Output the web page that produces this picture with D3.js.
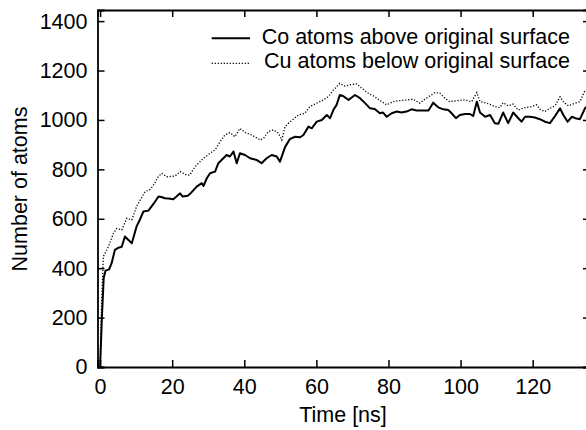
<!DOCTYPE html>
<html>
<head>
<meta charset="utf-8">
<script src="https://cdn.jsdelivr.net/npm/d3@7"></script>
<style>
    body { margin: 0; background: #fff; }
    #js_chart text { font-family: "Liberation Sans", Arial, Helvetica, sans-serif; font-size: 21.5px; fill: #000; }
</style>
</head>
<body>
<div id="js_chart"></div>
<script>

// ******************************************************
// Data
// ******************************************************
const coTime = [0, 0.5, 1, 1.5, 2.5, 3.2, 4.1, 5, 6, 6.9, 7.8, 8.8, 10.1, 11, 12, 13.4, 14.8, 16.2, 17, 18, 19, 20.3,
    21.2, 22.2, 22.9, 24.3, 24.9, 26.1, 26.8, 28.2, 28.7, 29.6, 30.5, 31.9, 32.8, 33.7, 35.1, 36, 37, 37.9, 38.8,
    40.2, 41.6, 43.4, 44.8, 46.2, 47.6, 49, 49.9, 51.3, 52.6, 54.1, 55.5, 56.4, 57.8, 58.7, 60.1, 61.5, 62.9, 63.8,
    64.7, 65.6, 66.5, 67.4, 68.9, 70.7, 72.1, 73.5, 74.9, 76.2, 77.6, 78.5, 79.5, 80.9, 82.3, 83.6, 85, 86.4, 87.8,
    89.7, 91.1, 92.4, 93.8, 95.2, 96.6, 97.5, 98.7, 99.8, 101.2, 102.6, 103.5, 104.5, 105.4, 106.8, 108.2, 109.5,
    110.5, 111.8, 113.2, 114.6, 116, 116.9, 117.9, 119.2, 120.6, 122, 123.4, 124.8, 126.2, 127.6, 128.5, 129.7,
    130.9, 131.8, 133.1, 134.5, 135.5];
const coAtoms = [0, 200, 360, 390, 395, 420, 474, 482, 487, 528, 515, 501, 568, 595, 629, 633, 660, 690, 688, 683, 682, 679,
    690, 703, 690, 693, 700, 719, 730, 744, 733, 764, 784, 791, 825, 838, 858, 852, 872, 825, 865,
    858, 845, 838, 825, 845, 858, 852, 831, 890, 922, 932, 930, 939, 973, 966, 993, 1000, 1020, 1007,
    1040, 1061, 1101, 1097, 1081, 1101, 1088, 1068, 1047, 1044, 1027, 1030, 1013, 1027, 1034, 1030, 1034, 1043, 1038,
    1038, 1038, 1070, 1051, 1043, 1040, 1027, 1007, 1020, 1024, 1024, 1016, 1074, 1030, 1013, 1020, 987,
    985, 1030, 987, 1030, 1007, 993, 1013, 1013, 1010, 1003, 993, 987, 1016, 1047, 1020, 993,
    1013, 1007, 1003, 1047, 1060];

const cuTime = [0, 0.3, 0.9, 2.3, 3.7, 4.6, 6, 7.4, 8.8, 10.1, 11.3, 12.5, 13.9, 15, 16.1, 17.1, 18.5, 20.8, 22.2, 24,
    24.9, 26.1, 26.8, 28.7, 30.5, 31.9, 33.3, 34.6, 36, 37.4, 38.8, 40.2, 42.1, 44.4, 45.3, 46.7, 48.1, 49.5, 50.4,
    51.3, 52.5, 55, 56.8, 58.2, 60.1, 61.9, 63.3, 64.7, 66.5, 67.9, 69.3, 71.2, 72.6, 74.4, 76.2, 78.1, 79.5, 81.3,
    83.1, 85, 86.8, 88.7, 90.5, 91.9, 92.9, 94.3, 95.6, 97, 98.9, 101.2, 103.1, 104.5, 105.4, 107.3, 109.5, 110.9,
    111.8, 113.2, 114.6, 116, 117.9, 119.7, 121.1, 122, 123.4, 124.8, 126.2, 127.6, 128.5, 129.9, 131.8, 133.1,
    134.5, 135.5];
const cuAtoms = [0, 200, 447, 487, 541, 561, 555, 602, 595, 649, 680, 710, 719, 740, 770, 784, 770, 773, 791, 777,
    777, 805, 818, 845, 865, 879, 912, 939, 949, 932, 966, 949, 939, 919, 925, 953, 960, 946, 919,
    973, 990, 1020, 1027, 1054, 1068, 1081, 1094, 1121, 1148, 1137, 1142, 1146, 1128, 1108, 1094, 1074, 1061, 1074,
    1078, 1081, 1084, 1068, 1088, 1101, 1111, 1108, 1088, 1074, 1078, 1081, 1074, 1111, 1074, 1068, 1054, 1050,
    1070, 1057, 1064, 1040, 1050, 1054, 1061, 1043, 1034, 1047, 1057, 1094, 1074, 1057, 1068, 1074,
    1119, 1125];

const xTicks = [0, 20, 40, 60, 80, 100, 120];
const yTicks = [0, 200, 400, 600, 800, 1000, 1200, 1400];
const legendLabels = ["Co atoms above original surface", "Cu atoms below original surface"];

createPlot();

function createPlot() {

    // ******************************************************
    // Clear
    // ******************************************************
    let div = document.getElementById("js_chart");
    div.innerHTML = "";

    // ******************************************************
    // Settings
    // ******************************************************
    let width = 586,
        height = 430;
    let plot = {left: 97.5, right: 590, top: 10, bottom: 367};
    const tickLen = 7;

    let x = d3.scaleLinear()
        .domain([-0.72, 135.9])
        .range([plot.left, plot.right]);

    let y = d3.scaleLinear()
        .domain([0, 1445])
        .range([plot.bottom, plot.top]);

    let coData = coTime.map(function (t, i) { return {x: t, y: coAtoms[i]}; });
    let cuData = cuTime.map(function (t, i) { return {x: t, y: cuAtoms[i]}; });

    // ******************************************************
    // svg
    // ******************************************************
    let svg = d3.select("#js_chart")
        .append("svg")
        .attr("width", width)
        .attr("height", height);

    let line = d3.line()
        .x(function (d) { return x(d.x); })
        .y(function (d) { return y(d.y); });

    // series
    svg.append("path")
        .datum(cuData)
        .attr("fill", "none")
        .attr("stroke", "#000")
        .attr("stroke-width", 1.3)
        .attr("stroke-dasharray", "1.2,1.8")
        .attr("d", line);

    svg.append("path")
        .datum(coData)
        .attr("fill", "none")
        .attr("stroke", "#000")
        .attr("stroke-width", 2)
        .attr("stroke-linejoin", "round")
        .attr("d", line);

    // axes (ticks point inward, mirrored on top and right)
    svg.append("g")
        .attr("transform", "translate(0," + plot.bottom + ")")
        .call(d3.axisBottom(x).tickValues(xTicks).tickSize(-tickLen).tickPadding(12).tickFormat(d3.format("d")))
        .call(styleAxis);

    svg.append("g")
        .attr("transform", "translate(0," + plot.top + ")")
        .call(d3.axisTop(x).tickValues(xTicks).tickSize(-tickLen).tickFormat(""))
        .call(styleAxis);

    svg.append("g")
        .attr("transform", "translate(" + plot.left + ",0)")
        .call(d3.axisLeft(y).tickValues(yTicks).tickSize(-tickLen).tickPadding(10).tickFormat(d3.format("d")))
        .call(styleAxis);

    svg.append("g")
        .attr("transform", "translate(" + plot.right + ",0)")
        .call(d3.axisRight(y).tickValues(yTicks).tickSize(-tickLen).tickFormat(""))
        .call(styleAxis);

    svg.selectAll(".tick text").attr("font-size", null).attr("font-family", null);

    // axis titles
    svg.append("text")
        .attr("x", 343)
        .attr("y", 422)
        .attr("text-anchor", "middle")
        .text("Time [ns]");

    svg.append("text")
        .attr("transform", "translate(27,189) rotate(-90)")
        .attr("text-anchor", "middle")
        .text("Number of atoms");

    // ******************************************************
    // Legend
    // ******************************************************
    let legend = svg.append("g");
    legendLabels.forEach(function (label, i) {
        let ly = 38.3 + i * 25;
        legend.append("line")
            .attr("x1", 211.7).attr("x2", 250)
            .attr("y1", ly).attr("y2", ly)
            .attr("stroke", "#000")
            .attr("stroke-width", i === 0 ? 2 : 1.3)
            .attr("stroke-dasharray", i === 0 ? null : "1.2,1.8");
        legend.append("text")
            .attr("x", 570)
            .attr("y", ly + 5.3 + i * -0.5)
            .attr("text-anchor", "end")
            .text(label);
    });

    // ******************************************************
    // Internal functions
    // ******************************************************
    function styleAxis(g) {
        g.select(".domain").attr("stroke", "#000").attr("stroke-width", 1.8);
        g.selectAll(".tick line").attr("stroke", "#000").attr("stroke-width", 1.5);
    }
}
</script>
</body>
</html>
